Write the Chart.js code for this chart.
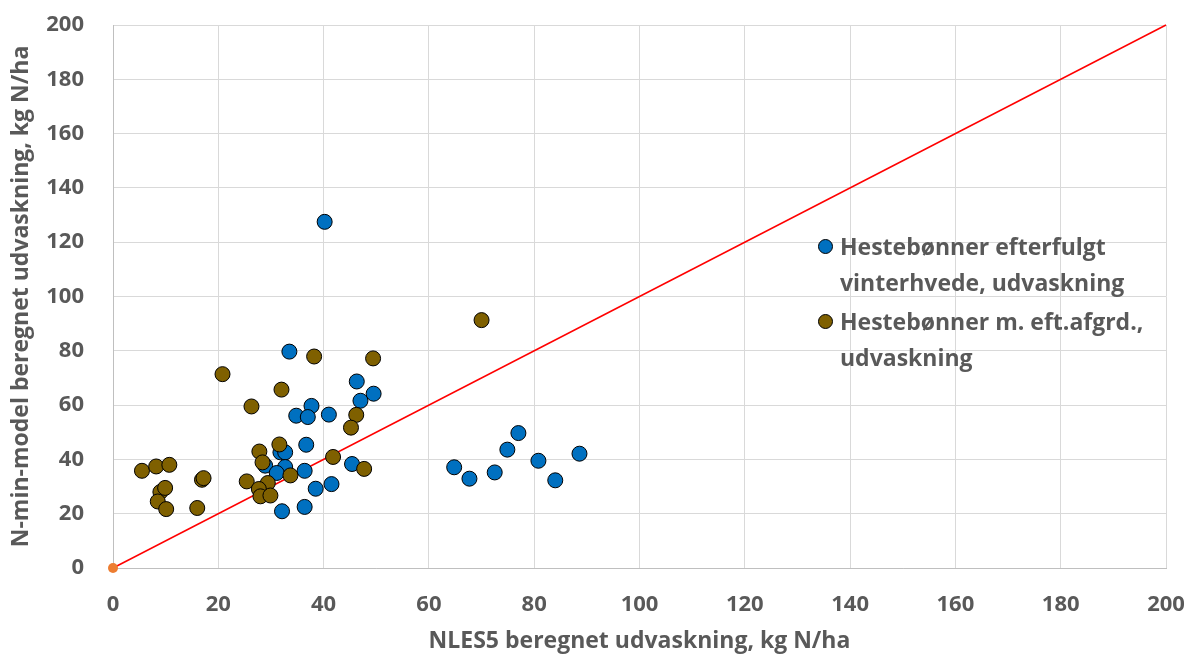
<!DOCTYPE html>
<html>
<head>
<meta charset="utf-8">
<script src="https://cdn.jsdelivr.net/npm/chart.js@4/dist/chart.umd.min.js"></script>
<style>
  html, body { margin: 0; padding: 0; background: #fff; }
  #wrap { position: relative; width: 1190px; height: 660px; }
  canvas { display: block; }
  .leg { position: absolute; font-family: "Open Sans", Lato, sans-serif; font-weight: bold; font-size: 23px; line-height: 36px; color: #595959; white-space: nowrap; }
  .mk { position: absolute; width: 13px; height: 13px; border-radius: 50%; border: 1px solid #000; }
</style>
</head>
<body>
<div id="wrap">
  <canvas id="c" width="1190" height="660"></canvas>
  <div class="mk" style="left:818px; top:239px; background:#0070C0;"></div>
  <div class="leg" style="left:840px; top:228px;">Hestebønner efterfulgt<br>vinterhvede, udvaskning</div>
  <div class="mk" style="left:818px; top:314px; background:#7F6000;"></div>
  <div class="leg" style="left:840px; top:303px;">Hestebønner m. eft.afgrd.,<br>udvaskning</div>
</div>
<script>
// Series 1: Hestebønner efterfulgt vinterhvede, udvaskning
const blueX = [40.2, 33.5, 46.3, 49.5, 47.0, 37.7, 34.8, 37.0, 41.0, 36.7, 31.8, 32.7, 28.9, 32.7, 31.1, 36.4, 45.4, 41.5, 38.5, 36.4, 32.1, 64.8, 67.7, 72.5, 74.9, 77.0, 80.8, 84.0, 88.6];
const blueY = [127.5, 79.7, 68.7, 64.2, 61.6, 59.7, 56.1, 55.6, 56.5, 45.4, 42.6, 42.6, 37.7, 37.2, 35.0, 35.8, 38.3, 30.9, 29.2, 22.5, 20.9, 37.1, 32.9, 35.2, 43.6, 49.7, 39.5, 32.3, 42.1];
// Series 2: Hestebønner m. eft.afgrd., udvaskning
const oliveX = [38.2, 49.4, 20.8, 32.0, 26.3, 46.2, 45.2, 31.6, 27.8, 41.8, 28.4, 47.7, 33.7, 5.5, 8.2, 10.7, 16.9, 17.2, 25.4, 29.4, 27.7, 28.0, 29.9, 9.0, 9.9, 8.5, 10.1, 16.0, 70.0];
const oliveY = [77.9, 77.2, 71.4, 65.7, 59.5, 56.4, 51.7, 45.5, 42.9, 40.9, 38.9, 36.5, 34.1, 35.8, 37.4, 38.0, 32.5, 33.1, 31.9, 31.3, 29.1, 26.4, 26.7, 28.0, 29.5, 24.5, 21.7, 22.1, 91.3];
// 1:1 line
const lineX = [0, 200];
const lineY = [0, 200];
const axisTicks = [0, 20, 40, 60, 80, 100, 120, 140, 160, 180, 200];

const pts = (xs, ys) => xs.map((x, i) => ({ x: x, y: ys[i] }));
const FONT = '"Open Sans", Lato, sans-serif';
const GRAY = '#595959';
const noPad = s => { s.paddingLeft = 0; s.paddingRight = 0; s.paddingTop = 0; s.paddingBottom = 0; };

new Chart(document.getElementById('c'), {
  type: 'scatter',
  data: {
    datasets: [
      { label: 'Hestebønner m. eft.afgrd., udvaskning', data: pts(oliveX, oliveY),
        backgroundColor: '#7F6000', borderColor: '#000', borderWidth: 1, pointRadius: 7.5 },
      { label: 'Hestebønner efterfulgt vinterhvede, udvaskning', data: pts(blueX, blueY),
        backgroundColor: '#0070C0', borderColor: '#000', borderWidth: 1, pointRadius: 7.5 },
      { label: '1:1', data: pts(lineX, lineY), showLine: true, clip: false, borderColor: '#FF0000', borderWidth: 1.5,
        pointRadius: [5, 0], pointBackgroundColor: '#ED7D31', pointBorderColor: '#ED7D31', pointBorderWidth: 0 }
    ]
  },
  options: {
    responsive: false,
    animation: false,
    layout: { padding: { top: 25, right: 24, left: 0, bottom: 0 } },
    plugins: { legend: { display: false }, tooltip: { enabled: false } },
    scales: {
      x: {
        type: 'linear', min: 0, max: 200,
        afterBuildTicks: s => { s.ticks = axisTicks.map(v => ({ value: v })); },
        afterFit: s => { s.height = 92; noPad(s); },
        grid: { color: '#D9D9D9', lineWidth: 1, drawTicks: false },
        border: { color: '#BFBFBF', width: 1 },
        ticks: { padding: 24, color: GRAY, font: { family: FONT, size: 22, weight: 'bold' } },
        title: { display: true, text: 'NLES5 beregnet udvaskning, kg N/ha', color: GRAY,
                 padding: { top: 0, bottom: 5 }, font: { family: FONT, size: 23, weight: 'bold' } }
      },
      y: {
        type: 'linear', min: 0, max: 200,
        afterBuildTicks: s => { s.ticks = axisTicks.map(v => ({ value: v })); },
        afterFit: s => { s.width = 113; noPad(s); },
        grid: { color: '#D9D9D9', lineWidth: 1, drawTicks: false },
        border: { color: '#BFBFBF', width: 1 },
        ticks: { padding: 29, color: GRAY, font: { family: FONT, size: 22, weight: 'bold' } },
        title: { display: true, text: 'N-min-model beregnet udvaskning, kg N/ha', color: GRAY,
                 padding: { top: 8, bottom: 0 }, font: { family: FONT, size: 23, weight: 'bold' } }
      }
    }
  }
});
</script>
</body>
</html>
